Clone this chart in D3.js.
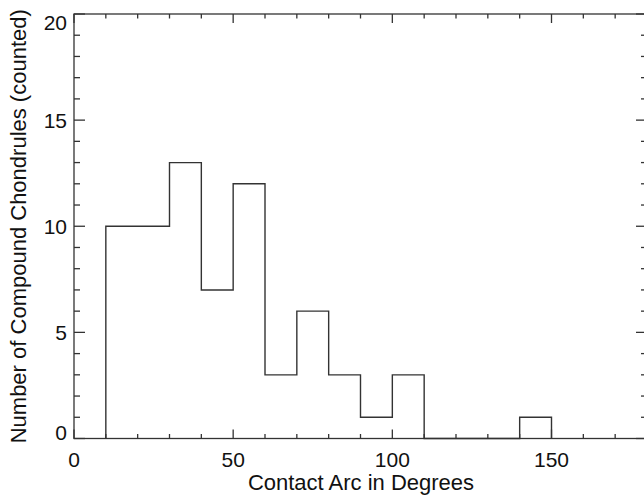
<!DOCTYPE html>
<html>
<head>
<meta charset="utf-8">
<script src="https://cdn.jsdelivr.net/npm/d3@7"></script>
<style>
  body { margin: 0; background: #fff; }
  svg text { font-family: "Liberation Sans", Arial, sans-serif; fill: #111; }
</style>
</head>
<body>
<div id="chart"></div>
<script>
// histogram bins (left edges, width 10 deg) and counts
var binEdges = [10, 20, 30, 40, 50, 60, 70, 80, 90, 100, 110, 120, 130, 140];
var binWidth = 10;
var counts   = [10, 10, 13, 7, 12, 3, 6, 3, 1, 3, 0, 0, 0, 1];
var xTicks = [0, 50, 100, 150];
var yTicks = [0, 5, 10, 15, 20];

var width = 644, height = 495;
var x = d3.scaleLinear().domain([0, 180]).range([74, 647]);
var y = d3.scaleLinear().domain([0, 20]).range([438.5, 14]);
var ink = "#333";

var svg = d3.select("#chart").append("svg")
    .attr("width", width)
    .attr("height", height);

// frame
svg.append("rect")
    .attr("x", x(0)).attr("y", y(20))
    .attr("width", x(180) - x(0)).attr("height", y(0) - y(20))
    .attr("fill", "none").attr("stroke", ink).attr("stroke-width", 1.3);

// ticks, drawn inwards on all four sides
function tick(x1, y1, x2, y2){
  svg.append("line")
    .attr("x1", x1).attr("y1", y1).attr("x2", x2).attr("y2", y2)
    .attr("stroke", ink).attr("stroke-width", 1.3);
}
for (var v = 0; v <= 180; v += 10) {
  var len = (v % 50 == 0) ? 9 : 4.5;
  tick(x(v), y(0), x(v), y(0) - len);
  tick(x(v), y(20), x(v), y(20) + len);
}
for (var w = 0; w <= 20; w += 1) {
  var l = (w % 5 == 0) ? 11 : 6;
  tick(x(0), y(w), x(0) + l, y(w));
  tick(x(180), y(w), x(180) - l, y(w));
}

// tick labels
svg.append("g").selectAll("text")
  .data(xTicks).enter().append("text")
    .attr("x", function(d){ return x(d); })
    .attr("y", 467)
    .attr("text-anchor", "middle")
    .style("font-size", "21px")
    .text(function(d){ return d; });

// end labels are kept inside the axis span, the others centred on the tick
svg.append("g").selectAll("text")
  .data(yTicks).enter().append("text")
    .attr("x", 67)
    .attr("y", function(d){
      if (d == 0) return y(d) + 1.5;
      if (d == 20) return y(d) + 16;
      return y(d) + 7.5;
    })
    .attr("text-anchor", "end")
    .style("font-size", "21px")
    .text(function(d){ return d; });

// axis titles
svg.append("text")
    .attr("x", 361).attr("y", 490)
    .attr("text-anchor", "middle")
    .style("font-size", "22px")
    .text("Contact Arc in Degrees");

svg.append("text")
    .attr("transform", "translate(26," + ((y(0) + y(20)) / 2) + ") rotate(-90)")
    .attr("text-anchor", "middle")
    .style("font-size", "22px")
    .text("Number of Compound Chondrules (counted)");

// step outline of the histogram
var pts = [[binEdges[0], 0]];
binEdges.forEach(function(e, i){
  pts.push([e, counts[i]]);
  pts.push([e + binWidth, counts[i]]);
});
pts.push([binEdges[binEdges.length - 1] + binWidth, 0]);

var line = d3.line()
    .x(function(d){ return x(d[0]); })
    .y(function(d){ return y(d[1]); });

svg.append("path")
    .attr("d", line(pts))
    .attr("fill", "none")
    .attr("stroke", ink)
    .attr("stroke-width", 1.4);
</script>
</body>
</html>
